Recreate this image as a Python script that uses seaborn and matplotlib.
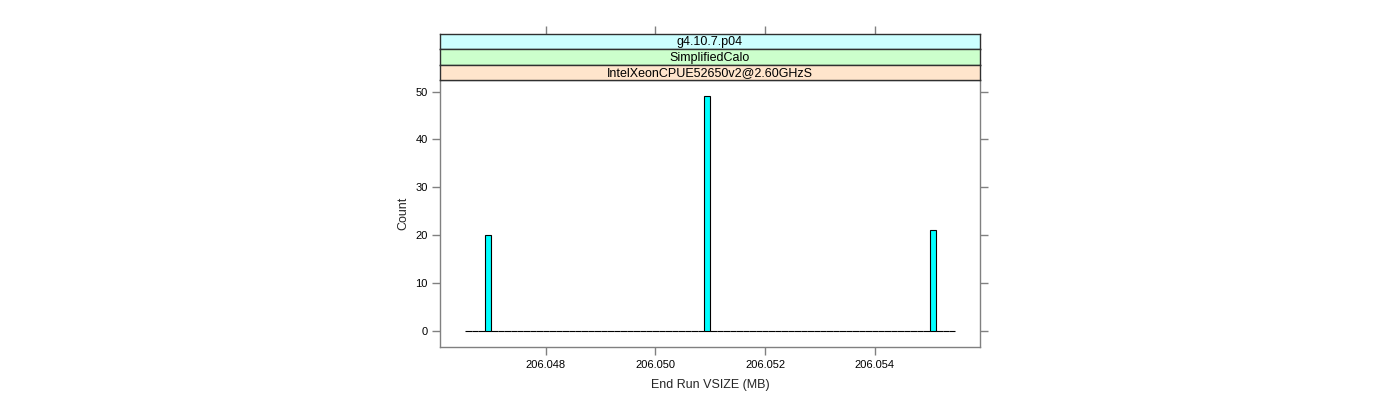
import numpy as np
import pandas as pd
import matplotlib
matplotlib.use("Agg")
import matplotlib.pyplot as plt
import seaborn as sns

# ---- data ----
vsize_values = [206.04695, 206.05094, 206.05506]   # End Run VSIZE (MB)
vsize_counts = [20, 49, 21]
bin_start = 206.046534
bin_width = 0.0001176
n_bins = 76
x_ticks = [206.048, 206.050, 206.052, 206.054]
x_tick_labels = ["206.048", "206.050", "206.052", "206.054"]
y_ticks = [0, 10, 20, 30, 40, 50]
strip_labels = ["g4.10.7.p04", "SimplifiedCalo", "IntelXeonCPUE52650v2@2.60GHzS"]
strip_colors = ["#ccffff", "#ccffcc", "#ffe5cc"]
x_label = "End Run VSIZE (MB)"
y_label = "Count"

df = pd.DataFrame({"vsize": np.repeat(vsize_values, vsize_counts)})
edges = list(bin_start + bin_width * np.arange(n_bins + 1))

sns.set_theme(style="white")
plt.rcParams["font.family"] = ["Liberation Sans", "DejaVu Sans"]

fig = plt.figure(figsize=(14, 4), dpi=100)
L, R = 440 / 1400, 980 / 1400
B, T = 1 - 347 / 400, 1 - 80 / 400
ax = fig.add_axes([L, B, R - L, T - B])

sns.histplot(data=df, x="vsize", bins=edges, ax=ax, stat="count",
             color="#00ffff", alpha=1.0, edgecolor="black", linewidth=0.8)

ax.set_xlim(206.04607, 206.05592)
ax.set_ylim(-3.43, 52.43)
ax.set_xticks(x_ticks)
ax.set_xticklabels(x_tick_labels)
ax.set_yticks(y_ticks)
ax.set_xlabel(x_label, fontsize=9, labelpad=7)
ax.set_ylabel(y_label, fontsize=9, labelpad=4)
gray = "#808080"
for s in ax.spines.values():
    s.set_color(gray)
    s.set_linewidth(1.0)
ax.tick_params(axis="both", which="both", direction="out", length=6, width=1,
               color=gray, labelsize=8, labelcolor="black", pad=3)
ax.tick_params(axis="y", right=True, left=True)
ax.tick_params(axis="x", bottom=True, top=False)

# strips
sh = 15.5 / 400
for i, (lab, col) in enumerate(zip(strip_labels, strip_colors)):
    ybot = T + (len(strip_labels) - 1 - i) * sh
    sax = fig.add_axes([L, ybot, R - L, sh], sharex=ax)
    sax.set_facecolor(col)
    sax.set_yticks([])
    sax.set_ylim(0, 1)
    for s in sax.spines.values():
        s.set_color("#303030")
        s.set_linewidth(1.0)
    sax.text(0.5, 0.45, lab, transform=sax.transAxes, ha="center", va="center",
             fontsize=9, color="black")
    if i == 0:
        sax.tick_params(axis="x", which="both", bottom=False, top=True,
                        labelbottom=False, labeltop=False, direction="out",
                        length=6, width=1, color=gray)
    else:
        sax.tick_params(axis="x", which="both", bottom=False, top=False,
                        labelbottom=False, labeltop=False)

fig.savefig("out.png", dpi=100, facecolor="white")
